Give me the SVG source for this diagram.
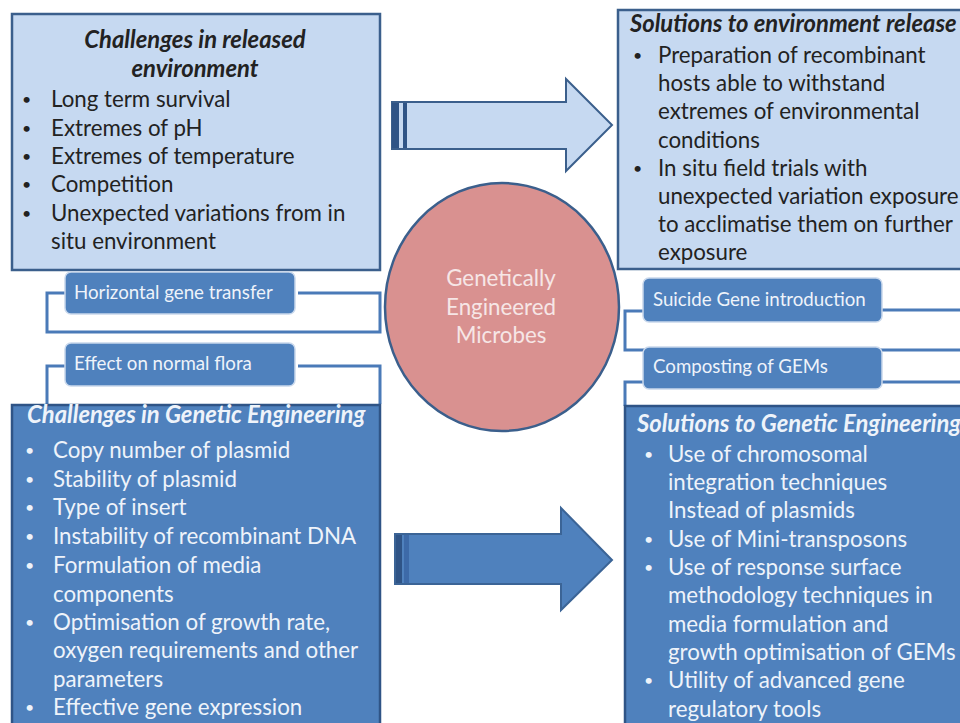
<svg xmlns="http://www.w3.org/2000/svg" width="960" height="723" viewBox="0 0 960 723">
<style>
.t{font-family:Lato,"Liberation Sans",sans-serif;}
.lb{fill:#c6d9f1;stroke:#3b5f8c;stroke-width:2.5}
.db{fill:#4f81bd;stroke:#2f5486;stroke-width:2.5}
.lbl{fill:#4f81bd;stroke:#c9d8ec;stroke-width:1.5}
.br{fill:none;stroke:#4a7ab8;stroke-width:3}
.dk{fill:#222;font-size:22.3px}
.wt{fill:#eef3fa;font-size:22.3px}
.ttl{font-weight:bold;font-style:italic;font-size:23.8px}
.ls{fill:#eef3fa;font-size:18.7px}
.bu{font-size:16px}
</style>
<rect width="960" height="723" fill="#ffffff"/>
<g id="connectors">
  <path class="br" d="M65,293 H47 V332 H380 V293 H298"/>
  <path class="br" d="M65,366 H47 V404 M298,366 H380 V404"/>
  <path class="br" d="M643,311 H625 V350 H960 M882,310 H960"/>
  <path class="br" d="M643,382 H625 V406 M882,382 H960"/>
  <g id="arrow-top">
    <path d="M392,102 H566 V79 L612,125 L566,171 V149 H392 Z" fill="#c6d9f1" stroke="#3b5f8c" stroke-width="2"/>
    <rect x="392" y="103" width="7" height="45" fill="#2f5486"/>
    <rect x="403" y="103" width="4" height="45" fill="#2f5486"/>
  </g>
  <g id="arrow-bottom">
    <path d="M395,534 H561 V508 L612,560 L561,610 V584 H395 Z" fill="#4f81bd" stroke="#3b6496" stroke-width="2"/>
    <rect x="396" y="535" width="6" height="48" fill="#2f5486"/>
    <rect x="404" y="535" width="5" height="48" fill="#3d6aa8"/>
  </g>
</g>
<g id="challenges-env">
  <rect class="lb" x="12" y="14" width="368" height="256"/>
  <text class="t dk ttl" x="195" y="48" text-anchor="middle">Challenges in released</text>
  <text class="t dk ttl" x="195" y="77" text-anchor="middle">environment</text>
  <g class="t dk">
    <text class="bu" x="22" y="105">•</text><text x="51" y="107">Long term survival</text>
    <text class="bu" x="22" y="134">•</text><text x="51" y="136">Extremes of pH</text>
    <text class="bu" x="22" y="162">•</text><text x="51" y="164">Extremes of temperature</text>
    <text class="bu" x="22" y="190">•</text><text x="51" y="192">Competition</text>
    <text class="bu" x="22" y="219">•</text><text x="51" y="221">Unexpected variations from in</text>
    <text x="51" y="249">situ environment</text>
  </g>
</g>
<g id="solutions-env">
  <rect class="lb" x="618" y="10" width="360" height="259"/>
  <text class="t dk ttl" x="630" y="32">Solutions to environment release</text>
  <g class="t dk">
    <text class="bu" x="633" y="61">•</text><text x="658" y="63">Preparation of recombinant</text>
    <text x="658" y="91">hosts able to withstand</text>
    <text x="658" y="119">extremes of environmental</text>
    <text x="658" y="148">conditions</text>
    <text class="bu" x="633" y="174">•</text><text x="658" y="176">In situ field trials with</text>
    <text x="658" y="204">unexpected variation exposure</text>
    <text x="658" y="232">to acclimatise them on further</text>
    <text x="658" y="260">exposure</text>
  </g>
</g>
<g id="gem">
  <ellipse cx="502" cy="307" rx="117" ry="124" fill="#d99190" stroke="#3b5f8c" stroke-width="2.5"/>
  <g class="t" fill="#f6e6e6" font-size="22.3" text-anchor="middle">
    <text x="501" y="286">Genetically</text>
    <text x="501" y="315">Engineered</text>
    <text x="501" y="343">Microbes</text>
  </g>
</g>
<g id="hgt">
  <rect class="lbl" x="65" y="272" width="230" height="42" rx="6"/>
  <text class="t ls" x="74" y="299">Horizontal gene transfer</text>
</g>
<g id="flora">
  <rect class="lbl" x="65" y="343" width="230" height="43" rx="6"/>
  <text class="t ls" x="74" y="370">Effect on normal flora</text>
</g>
<g id="suicide">
  <rect class="lbl" x="643" y="278" width="239" height="44" rx="6"/>
  <text class="t ls" x="653" y="306">Suicide Gene introduction</text>
</g>
<g id="composting">
  <rect class="lbl" x="643" y="347" width="239" height="42" rx="6"/>
  <text class="t ls" x="653" y="373">Composting of GEMs</text>
</g>
<g id="challenges-ge">
  <rect class="db" x="12" y="405" width="368" height="330"/>
  <text class="t wt ttl" x="27" y="423">Challenges in Genetic Engineering</text>
  <g class="t wt">
    <text class="bu" x="25" y="456">•</text><text x="53" y="458">Copy number of plasmid</text>
    <text class="bu" x="25" y="485">•</text><text x="53" y="487">Stability of plasmid</text>
    <text class="bu" x="25" y="513">•</text><text x="53" y="515">Type of insert</text>
    <text class="bu" x="25" y="542">•</text><text x="53" y="544">Instability of recombinant DNA</text>
    <text class="bu" x="25" y="571">•</text><text x="53" y="573">Formulation of media</text>
    <text x="53" y="602">components</text>
    <text class="bu" x="25" y="628">•</text><text x="53" y="630">Optimisation of growth rate,</text>
    <text x="53" y="658">oxygen requirements and other</text>
    <text x="53" y="687">parameters</text>
    <text class="bu" x="25" y="713">•</text><text x="53" y="715">Effective gene expression</text>
  </g>
</g>
<g id="solutions-ge">
  <rect class="db" x="625" y="406" width="350" height="330"/>
  <text class="t wt ttl" x="637" y="432">Solutions to Genetic Engineering</text>
  <g class="t wt">
    <text class="bu" x="644" y="460">•</text><text x="668" y="462">Use of chromosomal</text>
    <text x="668" y="490">integration techniques</text>
    <text x="668" y="518">Instead of plasmids</text>
    <text class="bu" x="644" y="545">•</text><text x="668" y="547">Use of Mini-transposons</text>
    <text class="bu" x="644" y="573">•</text><text x="668" y="575">Use of response surface</text>
    <text x="668" y="603">methodology techniques in</text>
    <text x="668" y="632">media formulation and</text>
    <text x="668" y="660">growth optimisation of GEMs</text>
    <text class="bu" x="644" y="686">•</text><text x="668" y="688">Utility of advanced gene</text>
    <text x="668" y="717">regulatory tools</text>
  </g>
</g>
</svg>
